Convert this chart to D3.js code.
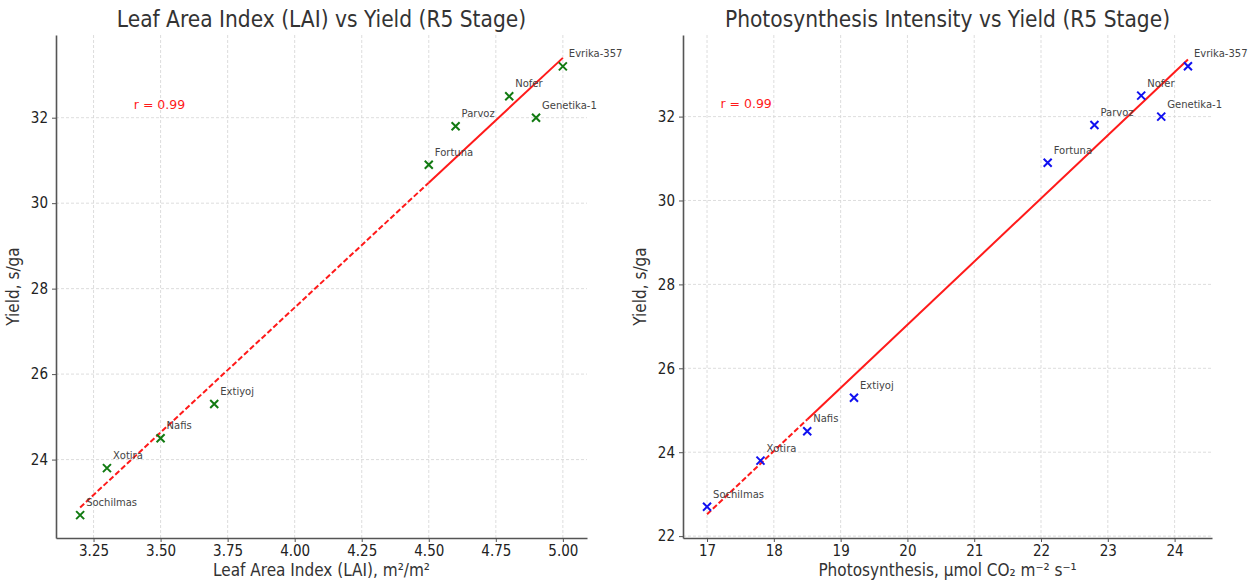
<!DOCTYPE html>
<html>
<head>
<meta charset="utf-8">
<script src="https://cdn.jsdelivr.net/npm/d3@7"></script>
<style>
  body { margin: 0; background: #fff; }
  svg text { font-family: "DejaVu Sans Condensed", "DejaVu Sans", sans-serif; font-stretch: condensed; }
  svg text.plain { font-family: "DejaVu Sans", sans-serif; font-stretch: normal; }
</style>
</head>
<body>
<svg></svg>
<script>
// data
const varieties = ['Sochilmas', 'Xotira', 'Nafis', 'Extiyoj', 'Fortuna', 'Parvoz', 'Nofer', 'Genetika-1', 'Evrika-357'];
const laiValues = [3.2, 3.3, 3.5, 3.7, 4.5, 4.6, 4.8, 4.9, 5.0];
const photoValues = [17.0, 17.8, 18.5, 19.2, 22.1, 22.8, 23.5, 23.8, 24.2];
const yieldValues = [22.7, 23.8, 24.5, 25.3, 30.9, 31.8, 32.5, 32.0, 33.2];

const laiTicks = [3.25, 3.50, 3.75, 4.00, 4.25, 4.50, 4.75, 5.00];
const photoTicks = [17, 18, 19, 20, 21, 22, 23, 24];
const yieldTicks = [22, 24, 26, 28, 30, 32];

// fitted line: dashed part then solid part (x, y pairs)
const laiFitDashed = [[3.2, 22.88], [4.5, 30.48]];
const laiFitSolid = [[4.5, 30.48], [5.0, 33.40]];
const photoFitDashed = [[17.0, 22.52], [18.5, 24.78]];
const photoFitSolid = [[18.5, 24.78], [24.2, 33.36]];

let config = { svg: { width: 1250, height: 581 } };

let svg = d3.select('svg')
  .attr('width', config.svg.width)
  .attr('height', config.svg.height);

let panels = [
  {
    title: 'Leaf Area Index (LAI) vs Yield (R5 Stage)',
    xlabel: 'Leaf Area Index (LAI), m²/m²',
    xs: laiValues, xTicks: laiTicks, xFormat: d3.format('.2f'),
    xDomain: [3.11, 5.09], yDomain: [22.165, 33.935],
    left: 56, right: 587, top: 35, bottom: 538,
    color: '#117a11', dashed: laiFitDashed, solid: laiFitSolid,
    rPos: [3.4, 32.2]
  },
  {
    title: 'Photosynthesis Intensity vs Yield (R5 Stage)',
    xlabel: 'Photosynthesis, µmol CO₂ m⁻² s⁻¹',
    xs: photoValues, xTicks: photoTicks, xFormat: d3.format('d'),
    xDomain: [16.64, 24.56], yDomain: [21.955, 33.945],
    left: 683, right: 1212, top: 35, bottom: 538,
    color: '#1010f0', dashed: photoFitDashed, solid: photoFitSolid,
    rPos: [17.2, 32.2]
  }
];

panels.forEach(drawPanel);

function drawPanel(p) {
  let x = d3.scaleLinear().domain(p.xDomain).range([p.left, p.right]);
  let y = d3.scaleLinear().domain(p.yDomain).range([p.bottom, p.top]);
  let g = svg.append('g');
  let yt = yieldTicks.filter(t => t >= p.yDomain[0]);

  // grid
  g.append('g').selectAll('line').data(p.xTicks).enter().append('line')
    .attr('x1', d => x(d)).attr('x2', d => x(d))
    .attr('y1', p.top).attr('y2', p.bottom)
    .attr('stroke', '#d4d4d4').attr('stroke-width', 0.8).attr('stroke-dasharray', '3,2');
  g.append('g').selectAll('line').data(yt).enter().append('line')
    .attr('x1', p.left).attr('x2', p.right)
    .attr('y1', d => y(d)).attr('y2', d => y(d))
    .attr('stroke', '#d4d4d4').attr('stroke-width', 0.8).attr('stroke-dasharray', '3,2');

  // axes
  let gx = g.append('g').attr('transform', translate(0, p.bottom))
    .call(d3.axisBottom(x).tickValues(p.xTicks).tickFormat(p.xFormat).tickSize(4).tickSizeOuter(0).tickPadding(3));
  let gy = g.append('g').attr('transform', translate(p.left, 0))
    .call(d3.axisLeft(y).tickValues(yt).tickSize(4).tickSizeOuter(0).tickPadding(4));
  [gx, gy].forEach(a => {
    a.attr('font-family', null);
    a.select('.domain').attr('stroke', '#555').attr('stroke-width', 1.6);
    a.selectAll('.tick line').attr('stroke', '#555').attr('stroke-width', 1);
    a.selectAll('.tick text').attr('fill', '#222').style('font-size', '15px');
  });

  // fit line
  let line = d3.line().x(d => x(d[0])).y(d => y(d[1]));
  g.append('path').datum(p.dashed).attr('d', line)
    .attr('fill', 'none').attr('stroke', '#ff1a1a').attr('stroke-width', 2).attr('stroke-dasharray', '5.5,2.5');
  g.append('path').datum(p.solid).attr('d', line)
    .attr('fill', 'none').attr('stroke', '#ff1a1a').attr('stroke-width', 2);

  // points as x markers
  let pts = varieties.map((name, i) => ({ name: name, x: p.xs[i], y: yieldValues[i] }));
  let s = 4;
  g.append('g').selectAll('path').data(pts).enter().append('path')
    .attr('d', d => {
      let cx = x(d.x), cy = y(d.y);
      return 'M' + (cx - s) + ',' + (cy - s) + 'L' + (cx + s) + ',' + (cy + s) +
             'M' + (cx - s) + ',' + (cy + s) + 'L' + (cx + s) + ',' + (cy - s);
    })
    .attr('stroke', p.color).attr('stroke-width', 2).attr('fill', 'none');

  g.append('g').selectAll('text').data(pts).enter().append('text')
    .attr('class', 'plain')
    .attr('x', d => x(d.x) + 6).attr('y', d => y(d.y) - 9)
    .attr('fill', '#444').style('font-size', '10px')
    .text(d => d.name);

  // r label
  g.append('text').attr('class', 'plain').attr('x', x(p.rPos[0])).attr('y', y(p.rPos[1]))
    .attr('fill', '#ff1a1a').style('font-size', '12.5px').text('r = 0.99');

  // titles
  g.append('text').attr('x', (p.left + p.right) / 2).attr('y', 27)
    .attr('text-anchor', 'middle').attr('fill', '#333').style('font-size', '22.5px').text(p.title);
  g.append('text').attr('x', (p.left + p.right) / 2).attr('y', 576)
    .attr('text-anchor', 'middle').attr('fill', '#333').style('font-size', '17px').text(p.xlabel);
  g.append('text').attr('transform', translate(p.left - 37, (p.top + p.bottom) / 2) + ' rotate(-90)')
    .attr('text-anchor', 'middle').attr('fill', '#333').style('font-size', '17px').text('Yield, s/ga');
}

function translate(x, y) {
  return 'translate(' + x + ',' + y + ')';
}
</script>
</body>
</html>
